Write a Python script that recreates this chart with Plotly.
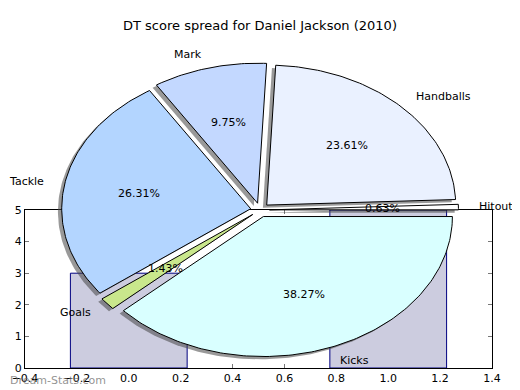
import math
import plotly.graph_objects as go

# ---- data ----
slice_labels = ["Hitout", "Handballs", "Mark", "Tackle", "Goals", "Kicks"]
slice_shares = [0.63, 23.61, 9.75, 26.31, 1.43, 38.27]
slice_colors = ["#ffffff", "#eaf1ff", "#c3d8ff", "#b3d5ff", "#c9e78c", "#d9ffff"]
bar_x = [0, 1]
bar_h = [3, 5]
x_ticks = [-0.4, -0.2, 0.0, 0.2, 0.4, 0.6, 0.8, 1.0, 1.2, 1.4]
y_ticks = [0, 1, 2, 3, 4, 5]
title_text = "DT score spread for Daniel Jackson (2010)"

EXPLODE = 0.05
SHADOW = (-0.02, -0.02)
FONT = "DejaVu Sans"

# the page body adds an 8px margin; the figure is sized/positioned to compensate
OFF = 8
W, H = 520 - OFF, 390 - OFF
CX, CY = 260 - OFF, 210 - OFF   # pie centre in figure pixels
RX, RY = 189, 140               # pie radii in pixels

fig = go.Figure()

# bars on the base axes
fig.add_trace(go.Bar(x=bar_x, y=bar_h, width=0.45,
                     marker=dict(color="#ccccdf", line=dict(color="#000080", width=1)),
                     xaxis="x", yaxis="y", showlegend=False, hoverinfo="skip"))

# pie wedges (elliptical pie on full-figure axes)
total = sum(slice_shares)
wedges = []
a0 = 0.0
for lab, v, col in zip(slice_labels, slice_shares, slice_colors):
    a1 = a0 + 360.0 * v / total
    mid = math.radians((a0 + a1) / 2)
    cx = EXPLODE * math.cos(mid)
    cy = EXPLODE * math.sin(mid)
    n = max(3, int((a1 - a0) / 1.0) + 2)
    xs = [cx]
    ys = [cy]
    for i in range(n + 1):
        t = math.radians(a0 + (a1 - a0) * i / n)
        xs.append(cx + math.cos(t))
        ys.append(cy + math.sin(t))
    xs.append(cx)
    ys.append(cy)
    wedges.append((lab, v, col, xs, ys, mid, cx, cy))
    a0 = a1

for lab, v, col, xs, ys, mid, cx, cy in wedges:
    fig.add_trace(go.Scatter(x=[x + SHADOW[0] for x in xs], y=[y + SHADOW[1] for y in ys],
                             mode="lines", fill="toself", fillcolor="rgba(70,70,70,0.55)",
                             line=dict(width=0), xaxis="x2", yaxis="y2",
                             showlegend=False, hoverinfo="skip"))
for lab, v, col, xs, ys, mid, cx, cy in wedges:
    fig.add_trace(go.Scatter(x=xs, y=ys, mode="lines", fill="toself", fillcolor=col,
                             line=dict(color="black", width=1), xaxis="x2", yaxis="y2",
                             showlegend=False, hoverinfo="skip"))

annotations = []
for lab, v, col, xs, ys, mid, cx, cy in wedges:
    lx = cx + 1.1 * math.cos(mid)
    ly = cy + 1.1 * math.sin(mid)
    annotations.append(dict(x=lx, y=ly, xref="x2", yref="y2", text=lab, showarrow=False,
                            xanchor="left" if lx > 0 else "right", yanchor="middle",
                            font=dict(family=FONT, size=11, color="black")))
    px = cx + 0.6 * math.cos(mid)
    py = cy + 0.6 * math.sin(mid)
    annotations.append(dict(x=px, y=py, xref="x2", yref="y2", text=f"{v:.2f}%", showarrow=False,
                            xanchor="center", yanchor="middle",
                            font=dict(family=FONT, size=11, color="black")))

annotations.append(dict(x=(260 - OFF) / W, y=1 - (26 - OFF) / H, xref="paper", yref="paper",
                        text=title_text, showarrow=False, xanchor="center", yanchor="middle",
                        font=dict(family=FONT, size=13, color="black")))
annotations.append(dict(x=0.0, y=1 - (380 - OFF) / H, xref="paper", yref="paper",
                        text="Dream-Stats.com", showarrow=False, xanchor="left", yanchor="middle",
                        font=dict(family=FONT, size=11, color="rgba(110,110,110,0.75)")))

fig.update_layout(
    width=W, height=H,
    margin=dict(l=0, r=0, t=0, b=0, pad=0),
    paper_bgcolor="white", plot_bgcolor="rgba(0,0,0,0)",
    showlegend=False,
    font=dict(family=FONT, size=11, color="black"),
    xaxis=dict(domain=[(25 - OFF) / W, (492 - OFF) / W], range=[-0.4, 1.4], tickvals=x_ticks,
               ticktext=[f"{t:.1f}".replace("-", "\u2212") for t in x_ticks],
               ticks="inside", ticklen=4, tickcolor="#777", mirror="ticks",
               showline=True, linecolor="black", linewidth=1, showgrid=False, zeroline=False,
               anchor="y", layer="below traces", tickfont=dict(size=11), automargin=False),
    yaxis=dict(domain=[1 - (368 - OFF) / H, 1 - (210 - OFF) / H], range=[0, 5], tickvals=y_ticks,
               ticks="inside", ticklen=4, tickcolor="#777", mirror="ticks",
               showline=True, linecolor="black", linewidth=1, showgrid=False, zeroline=False,
               anchor="x", layer="below traces", tickfont=dict(size=11), automargin=False),
    xaxis2=dict(domain=[0, 1], range=[-CX / RX, (W - CX) / RX], visible=False, anchor="y2",
                fixedrange=True, automargin=False),
    yaxis2=dict(domain=[0, 1], range=[-(H - CY) / RY, CY / RY], visible=False, anchor="x2",
                fixedrange=True, automargin=False),
    annotations=annotations,
)

fig.write_html("out.html")
